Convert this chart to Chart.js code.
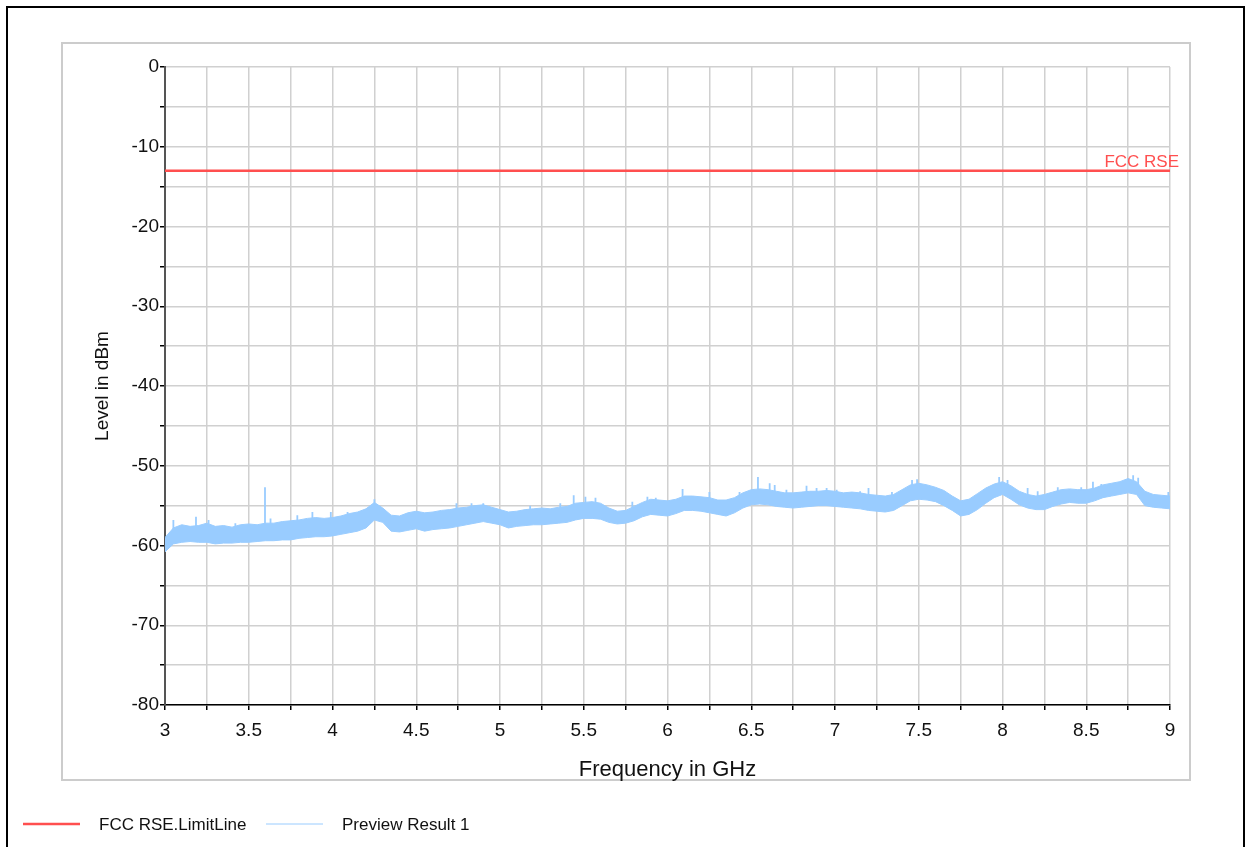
<!DOCTYPE html>
<html>
<head>
<meta charset="utf-8">
<script src="https://cdn.jsdelivr.net/npm/chart.js@4/dist/chart.umd.min.js"></script>
<style>
  html, body { margin: 0; padding: 0; background: #fff; overflow: hidden; }
  #wrap { position: relative; width: 1246px; height: 847px; }
  #frame { position: absolute; left: 6px; top: 6px; width: 1235px; height: 1000px; border: 2px solid #000; pointer-events: none; }
</style>
</head>
<body>
<div id="wrap">
  <canvas id="chart"></canvas>
  <div id="frame"></div>
</div>
<script>
// frequency grid (GHz) for the measured trace envelope
const freqs = [
  3.00, 3.05, 3.10, 3.15, 3.20, 3.25, 3.30, 3.35, 3.40, 3.45,
  3.50, 3.55, 3.60, 3.65, 3.70, 3.75, 3.80, 3.85, 3.90, 3.95,
  4.00, 4.05, 4.10, 4.15, 4.20, 4.25, 4.30, 4.35, 4.40, 4.45,
  4.50, 4.55, 4.60, 4.65, 4.70, 4.75, 4.80, 4.85, 4.90, 4.95,
  5.00, 5.05, 5.10, 5.15, 5.20, 5.25, 5.30, 5.35, 5.40, 5.45,
  5.50, 5.55, 5.60, 5.65, 5.70, 5.75, 5.80, 5.85, 5.90, 5.95,
  6.00, 6.05, 6.10, 6.15, 6.20, 6.25, 6.30, 6.35, 6.40, 6.45,
  6.50, 6.55, 6.60, 6.65, 6.70, 6.75, 6.80, 6.85, 6.90, 6.95,
  7.00, 7.05, 7.10, 7.15, 7.20, 7.25, 7.30, 7.35, 7.40, 7.45,
  7.50, 7.55, 7.60, 7.65, 7.70, 7.75, 7.80, 7.85, 7.90, 7.95,
  8.00, 8.05, 8.10, 8.15, 8.20, 8.25, 8.30, 8.35, 8.40, 8.45,
  8.50, 8.55, 8.60, 8.65, 8.70, 8.75, 8.80, 8.85, 8.90, 8.95,
  9.00
];

// upper edge of the Preview Result 1 trace (dBm)
const previewUpper = [
  -59.0, -57.8, -57.4, -57.6, -57.5, -57.2, -57.6, -57.5, -57.7, -57.4,
  -57.3, -57.4, -57.2, -57.2, -57.0, -56.9, -56.8, -56.6, -56.5, -56.6,
  -56.5, -56.3, -56.0, -55.8, -55.4, -54.6, -55.3, -56.2, -56.3, -55.9,
  -55.7, -55.9, -55.8, -55.6, -55.5, -55.3, -55.2, -55.0, -54.9, -55.2,
  -55.5, -55.8, -55.7, -55.5, -55.4, -55.3, -55.4, -55.2, -55.1, -54.7,
  -54.6, -54.5, -54.7, -55.3, -55.7, -55.6, -55.1, -54.6, -54.2, -54.3,
  -54.4, -54.2, -53.8, -53.8, -53.9, -54.0, -54.3, -54.3, -54.0, -53.4,
  -53.0, -52.9, -53.0, -53.2, -53.4, -53.4, -53.3, -53.2, -53.2, -53.1,
  -53.2, -53.4, -53.3, -53.4, -53.6, -53.7, -53.8, -53.6, -53.0, -52.4,
  -52.2, -52.4, -52.7, -53.1, -53.8, -54.4, -54.2, -53.5, -52.8, -52.3,
  -52.0, -52.5, -53.2, -53.6, -53.8, -53.6, -53.3, -53.0, -52.9, -53.0,
  -53.0, -52.8, -52.4, -52.2, -52.0, -51.6, -52.0, -53.2, -53.6, -53.7,
  -53.8
];

// lower edge of the Preview Result 1 trace (dBm)
const previewLower = [
  -60.8, -59.8, -59.6, -59.5, -59.6, -59.6, -59.8, -59.7, -59.7, -59.6,
  -59.6, -59.5, -59.4, -59.4, -59.3, -59.3, -59.1, -59.0, -58.9, -58.9,
  -58.8, -58.6, -58.4, -58.2, -57.8, -56.8, -57.1, -58.2, -58.3, -58.1,
  -57.9, -58.2, -58.0, -57.9, -57.8, -57.6, -57.4, -57.2, -57.0, -57.2,
  -57.4, -57.8, -57.6, -57.5, -57.4, -57.4, -57.3, -57.2, -57.1, -56.8,
  -56.6, -56.6, -56.7, -57.1, -57.3, -57.2, -56.9, -56.4, -56.1, -56.2,
  -56.3, -56.0, -55.6, -55.6, -55.7, -55.9, -56.1, -56.3, -55.9, -55.3,
  -54.9, -54.8, -54.9, -55.1, -55.2, -55.3, -55.2, -55.1, -55.0, -55.0,
  -55.1, -55.2, -55.3, -55.4, -55.6, -55.7, -55.8, -55.6, -55.0, -54.4,
  -54.2, -54.3, -54.5, -55.0, -55.6, -56.3, -56.1, -55.5, -54.7, -54.0,
  -53.6, -54.2, -54.9, -55.3, -55.5, -55.5, -55.1, -54.8, -54.6, -54.7,
  -54.7, -54.4, -54.0, -53.8, -53.6, -53.4, -53.6, -55.0, -55.2, -55.3,
  -55.4
];

// narrow spikes sticking out above the trace
const spikeFreq = [
  3.05, 3.185, 3.26, 3.42, 3.597, 3.63, 3.79, 3.88, 3.99, 4.09, 4.16, 4.25,
  4.74, 4.83, 4.90, 5.18, 5.36, 5.44, 5.51, 5.57, 5.79, 5.88, 5.93,
  6.09, 6.25, 6.43, 6.54, 6.61, 6.64, 6.71, 6.83, 6.89, 6.95, 7.01, 7.15, 7.20, 7.34, 7.46, 7.49,
  7.98, 8.03, 8.15, 8.21, 8.33, 8.47, 8.54, 8.59, 8.70, 8.78, 8.81, 8.99
];
const spikeBase = [
  -58.5, -58.2, -58.2, -58.4, -58.8, -58.0, -57.6, -57.4, -57.4, -57.0, -56.8, -56.0,
  -56.2, -56.0, -55.8, -56.2, -56.0, -55.5, -55.5, -55.4, -56.0, -55.2, -55.0,
  -54.8, -54.8, -54.4, -54.0, -53.8, -53.9, -54.2, -54.0, -54.0, -54.0, -54.0, -54.3, -54.5, -54.5, -53.2, -53.0,
  -52.8, -53.0, -54.2, -54.4, -54.0, -53.8, -53.6, -53.2, -52.8, -52.5, -52.6, -54.6
];
const spikeTop = [
  -56.8, -56.4, -56.8, -57.2, -52.7, -56.6, -56.2, -55.8, -55.8, -55.8, -55.9, -54.2,
  -54.7, -54.7, -54.7, -55.0, -54.7, -53.7, -53.9, -54.0, -54.5, -53.9, -54.0,
  -52.9, -53.3, -53.3, -51.4, -52.2, -52.4, -53.0, -52.5, -52.8, -52.8, -53.0, -53.2, -52.8, -53.3, -51.8, -51.7,
  -51.4, -51.8, -52.8, -53.2, -52.7, -52.7, -52.0, -52.3, -52.0, -51.2, -51.5, -53.3
];

// FCC limit line
const limitFreq = [3, 9];
const limitLevel = [-13, -13];
const limitName = 'FCC RSE';

const redColor = '#ff4f4f';
const blueColor = '#99ccff';
const fontFamily = '"Liberation Sans", Arial, sans-serif';

const upperPoints = freqs.map((f, i) => ({ x: f, y: previewUpper[i] }));
const lowerPoints = freqs.map((f, i) => ({ x: f, y: previewLower[i] }));
const limitPoints = limitFreq.map((f, i) => ({ x: f, y: limitLevel[i] }));
const spikePoints = [];
spikeFreq.forEach((f, i) => {
    spikePoints.push({ x: f, y: spikeBase[i] });
    spikePoints.push({ x: f, y: spikeTop[i] });
    spikePoints.push({ x: f, y: null });
});

// panel frame, limit label and legend drawn by hand
const decorPlugin = {
    id: 'decor',
    beforeDraw(chart) {
        const ctx = chart.ctx;
        ctx.save();
        ctx.strokeStyle = '#cccccc';
        ctx.lineWidth = 2;
        ctx.strokeRect(62, 43, 1128, 737);
        ctx.restore();
    },
    afterDraw(chart) {
        const ctx = chart.ctx;
        const area = chart.chartArea;
        const yScale = chart.scales.y;
        ctx.save();
        // label above the limit line
        ctx.fillStyle = redColor;
        ctx.font = '17px ' + fontFamily;
        ctx.textAlign = 'right';
        ctx.textBaseline = 'alphabetic';
        ctx.fillText(limitName, area.right + 9, yScale.getPixelForValue(limitLevel[0]) - 4);

        // legend
        const items = [
            { label: chart.data.datasets[0].label, color: redColor, width: 2.5, x: 23 },
            { label: chart.data.datasets[1].label, color: blueColor, width: 1, x: 266 }
        ];
        const ly = 824;
        items.forEach(it => {
            ctx.strokeStyle = it.color;
            ctx.lineWidth = it.width;
            ctx.beginPath();
            ctx.moveTo(it.x, ly);
            ctx.lineTo(it.x + 57, ly);
            ctx.stroke();
            ctx.fillStyle = '#111';
            ctx.font = '17px ' + fontFamily;
            ctx.textAlign = 'left';
            ctx.textBaseline = 'middle';
            ctx.fillText(it.label, it.x + 76, ly + 1);
        });
        ctx.restore();
    }
};

const ctx = document.getElementById('chart').getContext('2d');
new Chart(ctx, {
    type: 'line',
    data: {
        datasets: [
            {
                label: 'FCC RSE.LimitLine',
                data: limitPoints,
                borderColor: redColor,
                borderWidth: 2.5,
                pointRadius: 0,
                fill: false
            },
            {
                label: 'Preview Result 1',
                data: upperPoints,
                borderColor: blueColor,
                borderWidth: 1,
                pointRadius: 0,
                fill: false
            },
            {
                label: 'lower',
                data: lowerPoints,
                borderColor: blueColor,
                backgroundColor: blueColor,
                borderWidth: 1,
                pointRadius: 0,
                fill: '-1'
            },
            {
                label: 'spikes',
                data: spikePoints,
                borderColor: blueColor,
                borderWidth: 1.8,
                pointRadius: 0,
                fill: false,
                spanGaps: false
            }
        ]
    },
    options: {
        responsive: true,
        maintainAspectRatio: false,
        animation: false,
        events: [],
        layout: {
            padding: { left: 88, top: 67, right: 76, bottom: 62 }
        },
        plugins: {
            legend: { display: false },
            tooltip: { enabled: false }
        },
        scales: {
            x: {
                type: 'linear',
                min: 3,
                max: 9,
                afterFit: (scale) => { scale.height = 80; },
                border: { display: true, color: '#000', width: 1.5 },
                grid: { color: '#d0d0d0', lineWidth: 1.5, tickColor: '#000', tickLength: 5 },
                ticks: {
                    stepSize: 0.25,
                    autoSkip: false,
                    maxRotation: 0,
                    padding: 9,
                    color: '#111',
                    font: { family: fontFamily, size: 19 },
                    callback: (v) => (v % 0.5 === 0 ? String(v) : '')
                },
                title: {
                    display: true,
                    text: 'Frequency in GHz',
                    color: '#111',
                    font: { family: fontFamily, size: 22 },
                    padding: { top: 0, bottom: 2 }
                }
            },
            y: {
                min: -80,
                max: 0,
                afterFit: (scale) => { scale.width = 77; },
                border: { display: true, color: '#555', width: 2 },
                grid: { color: '#d0d0d0', lineWidth: 1.5, tickColor: '#000', tickLength: 5 },
                ticks: {
                    stepSize: 5,
                    autoSkip: false,
                    padding: 1,
                    color: '#111',
                    font: { family: fontFamily, size: 19 },
                    callback: (v) => (v % 10 === 0 ? String(v) : '')
                },
                title: {
                    display: true,
                    text: 'Level in dBm',
                    color: '#111',
                    font: { family: fontFamily, size: 19 },
                    padding: { top: 3, bottom: 0 }
                }
            }
        }
    },
    plugins: [decorPlugin]
});
</script>
</body>
</html>
